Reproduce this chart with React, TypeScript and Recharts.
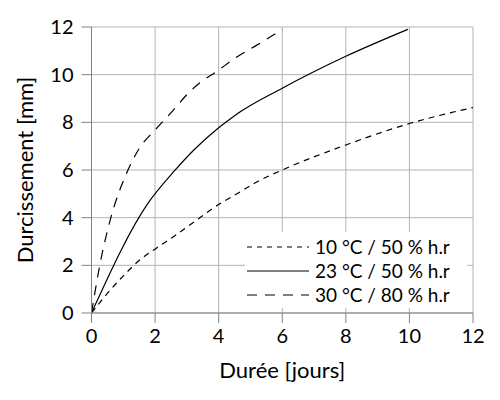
import React from 'react';
import { LineChart, Line, XAxis, YAxis, CartesianGrid, Legend } from 'recharts';

const xTicks = [0, 2, 4, 6, 8, 10, 12];
const yTicks = [0, 2, 4, 6, 8, 10, 12];

const series10 = [
  { x: 0, y: 0 }, { x: 0.42, y: 0.7 }, { x: 0.94, y: 1.47 }, { x: 1.47, y: 2.17 },
  { x: 2.05, y: 2.73 }, { x: 2.52, y: 3.15 }, { x: 3.05, y: 3.65 }, { x: 4, y: 4.55 },
  { x: 4.6, y: 5.02 }, { x: 5.2, y: 5.5 }, { x: 6, y: 6.0 }, { x: 8, y: 7.05 },
  { x: 10, y: 7.95 }, { x: 12, y: 8.62 },
];
const series23 = [
  { x: 0, y: 0 }, { x: 1.8, y: 4.65 }, { x: 2.6, y: 5.95 }, { x: 3.26, y: 6.89 },
  { x: 4, y: 7.77 }, { x: 4.5, y: 8.28 }, { x: 6, y: 9.43 }, { x: 8, y: 10.77 },
  { x: 9.95, y: 11.9 },
];
const series30 = [
  { x: 0, y: 0 }, { x: 0.27, y: 2.07 }, { x: 0.6, y: 3.96 }, { x: 1.1, y: 5.85 },
  { x: 1.5, y: 6.9 }, { x: 2.03, y: 7.72 }, { x: 2.54, y: 8.46 }, { x: 3.05, y: 9.23 },
  { x: 3.4, y: 9.65 }, { x: 3.94, y: 10.14 }, { x: 4.57, y: 10.74 }, { x: 5.2, y: 11.24 },
  { x: 6, y: 11.9 },
];

const names = ['10 °C / 50 % h.r', '23 °C / 50 % h.r', '30 °C / 80 % h.r'];
const dashes = ['6 5', '', '10 8'];
const legendDashes = ['5 5', '', '10 8'];

const FONT = 'Lato, "Open Sans", sans-serif';
const GRID = '#b3b3b3';
const AXIS = '#808080';

const LegendBox = () => (
  <div style={{ background: '#fff', width: 222, height: 76, position: 'relative', fontFamily: FONT }}>
    {names.map((n, i) => (
      <div key={n} style={{ position: 'absolute', left: 0, top: 3 + i * 24, height: 24, display: 'flex', alignItems: 'center' }}>
        <svg width={64} height={24} style={{ display: 'block' }}>
          <line x1={2} y1={12} x2={64} y2={12} stroke="#000" strokeWidth={1.2} strokeDasharray={legendDashes[i]} />
        </svg>
        <span style={{ marginLeft: 6, fontSize: 19, color: '#000', lineHeight: '24px', whiteSpace: 'nowrap' }}>{n}</span>
      </div>
    ))}
  </div>
);

export default function App() {
  return (
    <div style={{ position: 'absolute', left: 0, top: 0, width: 500, height: 400, background: '#fff' }}>
      <LineChart
        width={500}
        height={400}
        margin={{ top: 27, right: 27, bottom: 0, left: 0 }}
        style={{ fontFamily: FONT }}
      >
        <CartesianGrid xAxisId="b" yAxisId="l" stroke={GRID} strokeWidth={1} />
        <XAxis
          xAxisId="b"
          type="number"
          dataKey="x"
          domain={[0, 12]}
          ticks={xTicks}
          height={87}
          tickSize={10}
          tickMargin={6}
          axisLine={{ stroke: AXIS }}
          tickLine={{ stroke: AXIS }}
          tick={{ fill: '#000', fontSize: 20 }}
          allowDataOverflow
          label={{ value: 'Durée [jours]', position: 'center', dy: 14, fill: '#000', fontSize: 22 }}
        />
        <XAxis
          xAxisId="t"
          orientation="top"
          type="number"
          dataKey="x"
          domain={[0, 12]}
          ticks={xTicks}
          height={0}
          tickSize={10}
          axisLine={false}
          tickLine={{ stroke: GRID }}
          tickFormatter={() => ''}
        />
        <YAxis
          yAxisId="l"
          type="number"
          domain={[0, 12]}
          ticks={yTicks}
          width={91.5}
          tickSize={10}
          tickMargin={8}
          axisLine={{ stroke: AXIS }}
          tickLine={{ stroke: AXIS }}
          tick={{ fill: '#000', fontSize: 20 }}
          label={{ value: 'Durcissement [mm]', angle: -90, position: 'center', dx: -21, fill: '#000', fontSize: 22 }}
        />
        <YAxis
          yAxisId="r"
          orientation="right"
          type="number"
          domain={[0, 12]}
          ticks={yTicks}
          width={0}
          tickSize={10}
          axisLine={false}
          tickLine={{ stroke: GRID }}
          tickFormatter={() => ''}
        />
        <Line xAxisId="b" yAxisId="l" data={series10} dataKey="y" name={names[0]} type="monotone" stroke="#000" strokeWidth={1.2} strokeDasharray={dashes[0]} dot={false} isAnimationActive={false} />
        <Line xAxisId="b" yAxisId="l" data={series23} dataKey="y" name={names[1]} type="monotone" stroke="#000" strokeWidth={1.2} dot={false} isAnimationActive={false} />
        <Line xAxisId="b" yAxisId="l" data={series30} dataKey="y" name={names[2]} type="monotone" stroke="#000" strokeWidth={1.2} strokeDasharray={dashes[2]} dot={false} isAnimationActive={false} />
        <Legend
          content={() => <LegendBox />}
          wrapperStyle={{ position: 'absolute', left: 245, top: 232, width: 222, height: 0, overflow: 'visible' }}
        />
      </LineChart>
    </div>
  );
}
